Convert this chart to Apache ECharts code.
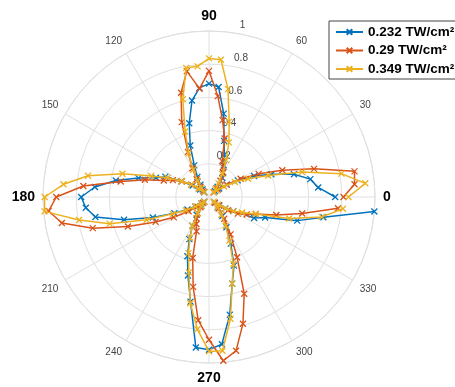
<!DOCTYPE html>
<html>
<head>
<meta charset="utf-8">
<script src="https://cdn.jsdelivr.net/npm/echarts@6/dist/echarts.min.js"></script>
<style>
html,body{margin:0;padding:0;background:#fff;}
#c{width:455px;height:387px;}
</style>
</head>
<body>
<div id="c"></div>
<script>
// Angles (degrees) at which the signal was sampled
const angles = [0,5,10,15,20,25,30,35,40,45,50,55,60,65,70,75,80,85,90,95,100,105,110,115,
  120,125,130,135,140,145,150,155,160,165,170,175,180,185,190,195,200,205,210,215,220,225,230,235,
  240,245,250,255,260,265,270,275,280,285,290,295,300,305,310,315,320,325,330,335,340,345,350,355];

const seriesNames = ['0.232 TW/cm²', '0.29 TW/cm²', '0.349 TW/cm²'];

const r232 = [0.76,0.66,0.62,0.53,0.40,0.30,0.20,0.13,0.08,0.05,0.08,0.14,0.17,0.21,0.27,0.35,0.51,0.665,0.683,0.66,0.59,0.46,0.33,0.21,
  0.14,0.09,0.06,0.04,0.07,0.12,0.19,0.29,0.34,0.44,0.57,0.69,0.77,0.745,0.695,0.53,0.36,0.23,0.15,0.10,0.06,0.04,0.07,0.13,
  0.20,0.28,0.38,0.49,0.64,0.91,0.92,0.89,0.72,0.54,0.44,0.31,0.21,0.14,0.08,0.05,0.08,0.12,0.17,0.30,0.36,0.55,0.70,1.00];

const r290 = [0.81,0.88,0.89,0.655,0.47,0.33,0.22,0.13,0.07,0.04,0.07,0.12,0.17,0.20,0.23,0.365,0.47,0.61,0.76,0.655,0.77,0.65,0.48,0.30,
  0.20,0.13,0.08,0.05,0.08,0.13,0.19,0.24,0.29,0.40,0.54,0.76,0.92,0.97,0.90,0.725,0.52,0.355,0.245,0.15,0.09,0.05,0.08,0.12,
  0.15,0.18,0.22,0.38,0.55,0.745,0.86,0.99,0.94,0.79,0.62,0.40,0.26,0.16,0.09,0.05,0.08,0.14,0.20,0.25,0.30,0.42,0.57,0.78];

const r349 = [0.84,0.945,0.81,0.58,0.38,0.26,0.18,0.11,0.06,0.04,0.06,0.10,0.16,0.245,0.35,0.47,0.66,0.83,0.835,0.79,0.79,0.61,0.42,0.29,
  0.19,0.12,0.07,0.04,0.08,0.13,0.19,0.275,0.37,0.54,0.74,0.88,0.99,0.995,0.795,0.62,0.40,0.24,0.16,0.10,0.06,0.04,0.07,0.12,
  0.20,0.27,0.36,0.47,0.65,0.80,0.93,0.93,0.745,0.54,0.43,0.29,0.20,0.13,0.08,0.04,0.07,0.12,0.17,0.22,0.30,0.50,0.69,0.81];

const radii = [r232, r290, r349];
const colors = ['#0072BD', '#D95319', '#EDB120'];
const boldAngles = [0, 90, 180, 270];

const FONT = '"Liberation Sans", Arial, Helvetica, sans-serif';
const GRID = '#e0e0e0';
const xSymbol = 'path://M0,0L10,10M10,0L0,10';

const chart = echarts.init(document.getElementById('c'), null, {renderer: 'canvas'});

const series = radii.map((r, k) => ({
  name: seriesNames[k],
  type: 'line',
  coordinateSystem: 'polar',
  polarIndex: 0,
  data: angles.map((a, i) => [r[i], a]),
  symbol: xSymbol,
  symbolSize: 6,
  lineStyle: {color: colors[k], width: 1.5},
  itemStyle: {color: colors[k], borderColor: colors[k], borderWidth: 1.3},
  z: 3 + k,
  animation: false
}));

chart.setOption({
  animation: false,
  backgroundColor: '#fff',
  textStyle: {fontFamily: FONT},
  polar: [
    {center: [209, 197], radius: 166},
    {center: [209, 197], radius: 166}
  ],
  angleAxis: [
    {
      polarIndex: 0, type: 'value', min: 0, max: 360, interval: 30,
      startAngle: 0, clockwise: false,
      axisLine: {show: true, lineStyle: {color: GRID, width: 1}},
      axisTick: {show: false},
      splitLine: {show: true, lineStyle: {color: GRID, width: 1}},
      axisLabel: {
        margin: 8,
        fontFamily: FONT,
        formatter: function (v) {
          if (v === 360) return '';
          return boldAngles.indexOf(v) >= 0 ? '{b|' + v + '}' : '{n|' + v + '}';
        },
        rich: {
          b: {fontSize: 14, fontWeight: 'bold', color: '#000', fontFamily: FONT},
          n: {fontSize: 10, color: '#444', fontFamily: FONT}
        }
      }
    },
    {
      polarIndex: 1, type: 'value', min: 0, max: 360,
      startAngle: 80, clockwise: false, show: false
    }
  ],
  radiusAxis: [
    {
      polarIndex: 0, type: 'value', min: 0, max: 1, interval: 0.2,
      axisLine: {show: false}, axisTick: {show: false}, axisLabel: {show: false},
      splitLine: {show: true, lineStyle: {color: GRID, width: 1}}
    },
    {
      polarIndex: 1, type: 'value', min: 0, max: 1, interval: 0.2,
      axisLine: {show: false}, axisTick: {show: false}, splitLine: {show: false},
      axisLabel: {
        show: true, margin: 0, align: 'left', verticalAlign: 'bottom',
        padding: [0, 0, 3, 2], fontSize: 10, color: '#444', fontFamily: FONT,
        formatter: function (v) { return v === 0 ? '' : String(+v.toFixed(1)); }
      }
    }
  ],
  legend: {
    data: seriesNames,
    orient: 'vertical',
    left: 329, top: 21,
    itemWidth: 27, itemHeight: 7, itemGap: 2.5,
    padding: [3, 24, 2, 6],
    borderColor: '#444', borderWidth: 1, borderRadius: 0,
    backgroundColor: '#fff',
    textStyle: {fontWeight: 'bold', fontSize: 13.5, color: '#000', fontFamily: FONT, lineHeight: 16}
  },
  series: series
});
</script>
</body>
</html>
